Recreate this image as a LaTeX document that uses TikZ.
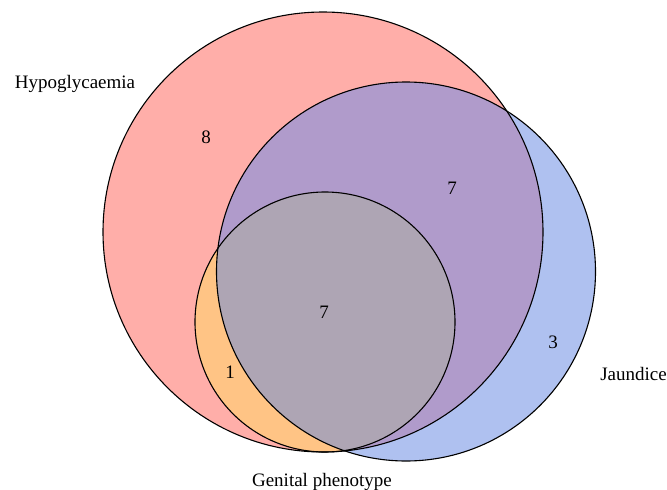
\documentclass[tikz,border=0pt]{standalone}
\usepackage{fontspec}
\setmainfont{Liberation Serif}

\definecolor{hypofill}{RGB}{255,174,169}
\definecolor{jaundfill}{RGB}{175,193,240}
\definecolor{genitfill}{RGB}{255,196,133}
\definecolor{hypojaundfill}{RGB}{176,155,203}
\definecolor{allfill}{RGB}{174,165,180}

% the three sets
\newcommand{\hypocirc}{(323,232) circle[radius=220pt]}
\newcommand{\jaundcirc}{(406,271.5) circle[radius=189.5pt]}
\newcommand{\genitcirc}{(325,322) circle[radius=130pt]}

\begin{document}
\begin{tikzpicture}[x=1pt,y=-1pt,
      outline/.style={draw=black,line width=1.1pt},
      setlabel/.style={font=\fontsize{19}{22}\selectfont,inner sep=0pt},
      countlabel/.style={font=\fontsize{19}{22}\selectfont,inner sep=0pt}]
      \useasboundingbox (0,0) rectangle (667,490);

      % Regions
      \fill[hypofill]  \hypocirc;
      \fill[jaundfill] \jaundcirc;
      \begin{scope}
        \clip \hypocirc;
        \fill[hypojaundfill] \jaundcirc;
      \end{scope}
      \begin{scope}
        \clip \genitcirc;
        \fill[genitfill] \genitcirc;
        \clip \jaundcirc;
        \fill[allfill] \genitcirc;
      \end{scope}

      % Outlines
      \draw[outline] \hypocirc;
      \draw[outline] \jaundcirc;
      \draw[outline] \genitcirc;

      % Set names
      \node[setlabel]              (hypo)  at (75,84)   {Hypoglycaemia};
      \node[setlabel,anchor=east]  (jaund) at (667,374) {Jaundice};
      \node[setlabel]              (genit) at (322,482) {Genital phenotype};

      % Counts
      \node[countlabel] (nhypo)      at (206,137) {8};
      \node[countlabel] (nhypojaund) at (452,188) {7};
      \node[countlabel] (nall)       at (324,312) {7};
      \node[countlabel] (njaund)     at (553,342) {3};
      \node[countlabel] (nhypogenit) at (230,372) {1};

    \end{tikzpicture}
\end{document}
